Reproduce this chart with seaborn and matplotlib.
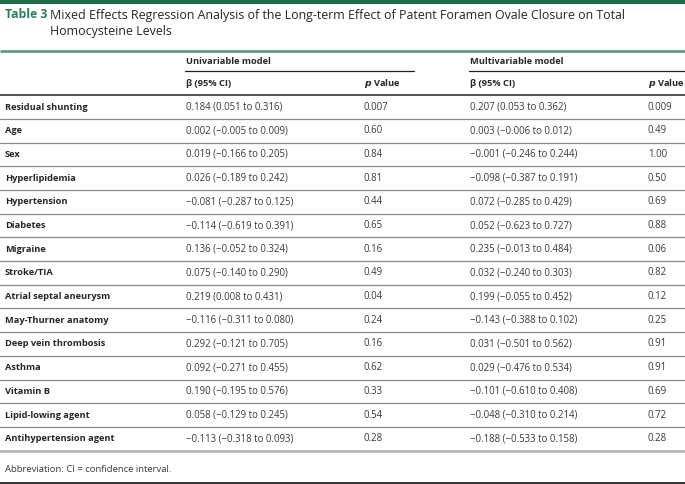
import matplotlib
matplotlib.use("Agg")
import matplotlib.pyplot as plt
import seaborn as sns

# --- dados da tabela ---
variables = ["Residual shunting", "Age", "Sex", "Hyperlipidemia", "Hypertension",
             "Diabetes", "Migraine", "Stroke/TIA", "Atrial septal aneurysm",
             "May-Thurner anatomy", "Deep vein thrombosis", "Asthma", "Vitamin B",
             "Lipid-lowing agent", "Antihypertension agent"]
uni_beta = ["0.184 (0.051 to 0.316)", "0.002 (\u22120.005 to 0.009)", "0.019 (\u22120.166 to 0.205)",
            "0.026 (\u22120.189 to 0.242)", "\u22120.081 (\u22120.287 to 0.125)",
            "\u22120.114 (\u22120.619 to 0.391)", "0.136 (\u22120.052 to 0.324)",
            "0.075 (\u22120.140 to 0.290)", "0.219 (0.008 to 0.431)",
            "\u22120.116 (\u22120.311 to 0.080)", "0.292 (\u22120.121 to 0.705)",
            "0.092 (\u22120.271 to 0.455)", "0.190 (\u22120.195 to 0.576)",
            "0.058 (\u22120.129 to 0.245)", "\u22120.113 (\u22120.318 to 0.093)"]
uni_p = ["0.007", "0.60", "0.84", "0.81", "0.44", "0.65", "0.16", "0.49", "0.04",
         "0.24", "0.16", "0.62", "0.33", "0.54", "0.28"]
multi_beta = ["0.207 (0.053 to 0.362)", "0.003 (\u22120.006 to 0.012)", "\u22120.001 (\u22120.246 to 0.244)",
              "\u22120.098 (\u22120.387 to 0.191)", "0.072 (\u22120.285 to 0.429)",
              "0.052 (\u22120.623 to 0.727)", "0.235 (\u22120.013 to 0.484)",
              "0.032 (\u22120.240 to 0.303)", "0.199 (\u22120.055 to 0.452)",
              "\u22120.143 (\u22120.388 to 0.102)", "0.031 (\u22120.501 to 0.562)",
              "0.029 (\u22120.476 to 0.534)", "\u22120.101 (\u22120.610 to 0.408)",
              "\u22120.048 (\u22120.310 to 0.214)", "\u22120.188 (\u22120.533 to 0.158)"]
multi_p = ["0.009", "0.49", "1.00", "0.50", "0.69", "0.88", "0.06", "0.82", "0.12",
           "0.25", "0.91", "0.91", "0.69", "0.72", "0.28"]

title_num = "Table 3"
title_text = ("Mixed Effects Regression Analysis of the Long-term Effect of Patent Foramen Ovale Closure on Total\n"
              "Homocysteine Levels")
footnote = "Abbreviation: CI = confidence interval."

# --- estilo ---
sns.set_theme(style="white")
plt.rcParams['font.family'] = ['Open Sans', 'DejaVu Sans']

GREEN_DARK = "#1e6b4c"
GREEN_TXT = "#2b8059"
GREEN_RULE = "#5e9c7f"
TXT = "#262626"
NUM = "#3a3a3a"
FS_LAB = 6.7
FS_NUM = 6.9

fig = plt.figure(figsize=(6.85, 4.84), dpi=100)
ax = fig.add_axes([0, 0, 1, 1])
ax.set_xlim(0, 685)
ax.set_ylim(484, 0)
ax.axis("off")

# colunas (px)
X_LABEL, X_UB, X_UP, X_MB, X_MP = 5, 186, 364, 470, 648

# barra superior e título
ax.axhspan(0, 3.5, color=GREEN_DARK, lw=0)
ax.text(X_LABEL, 14.5, title_num, color=GREEN_TXT, fontsize=8.8, fontweight="bold", va="center")
ax.text(50, 23.5, title_text, color=TXT, fontsize=8.88, va="center", linespacing=1.32)
ax.plot([0, 685], [50.5, 50.5], color=GREEN_RULE, lw=2.0, solid_capstyle="butt")

# cabeçalhos
ax.text(X_UB, 61, "Univariable model", fontsize=FS_LAB, fontweight="bold", color=TXT, va="center")
ax.text(X_MB, 61, "Multivariable model", fontsize=FS_LAB, fontweight="bold", color=TXT, va="center")
ax.plot([X_UB - 1, 414], [71, 71], color="#222222", lw=0.9)
ax.plot([X_MB - 1, 685], [71, 71], color="#222222", lw=0.9)
for x in (X_UB, X_MB):
    ax.text(x, 83, "\u03b2 (95% CI)", fontsize=FS_LAB, fontweight="bold", color=TXT, va="center")
for x in (X_UP, X_MP):
    ax.text(x, 83, "$\\mathbfit{p}$ Value", fontsize=FS_LAB, fontweight="bold", color=TXT, va="center")
ax.plot([0, 685], [95, 95], color="#222222", lw=1.1)

# linhas de dados
y0, dy = 107, 23.7
for i, var in enumerate(variables):
    y = y0 + i * dy
    ax.text(X_LABEL, y, var, fontsize=FS_LAB, fontweight="bold", color=TXT, va="center")
    ax.text(X_UB, y, uni_beta[i], fontsize=FS_NUM, color=NUM, va="center")
    ax.text(X_UP, y, uni_p[i], fontsize=FS_NUM, color=NUM, va="center")
    ax.text(X_MB, y, multi_beta[i], fontsize=FS_NUM, color=NUM, va="center")
    ax.text(X_MP, y, multi_p[i], fontsize=FS_NUM, color=NUM, va="center")
    ysep = y + dy / 2
    if i < len(variables) - 1:
        ax.plot([0, 685], [ysep, ysep], color="#8c8c8c", lw=0.9)
    else:
        ax.plot([0, 685], [ysep, ysep], color="#b0b0b0", lw=1.8)

ax.text(X_LABEL, 470, footnote, fontsize=6.8, color=NUM, va="center")
ax.plot([0, 685], [483, 483], color="#111111", lw=1.2)

fig.savefig("out.png", dpi=100)
